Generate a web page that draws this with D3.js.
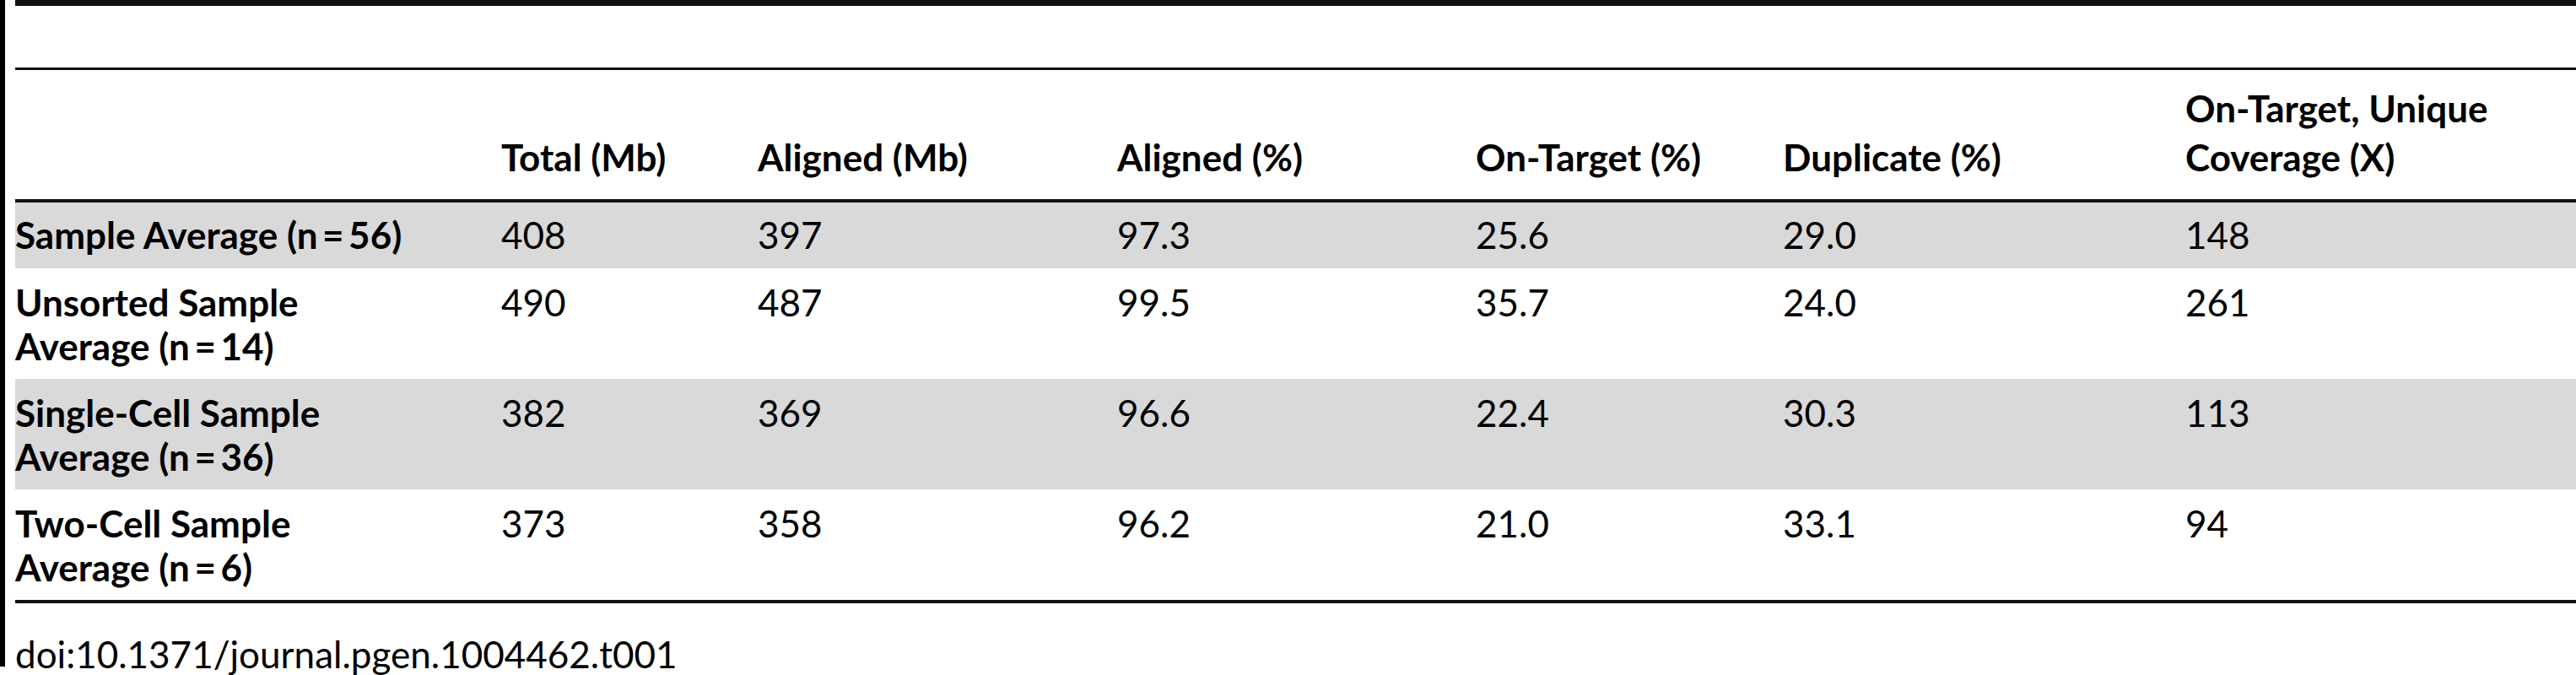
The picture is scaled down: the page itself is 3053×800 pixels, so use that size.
<!DOCTYPE html>
<html lang="en">
<head>
  <meta charset="utf-8">
  <title>Sequencing summary table</title>
  <script src="https://cdn.jsdelivr.net/npm/d3@7"></script>
  <style>
    body { margin: 0; background: #fff; }
    text { font-family: Lato, "Open Sans", sans-serif; fill: #000; }
    .hdr, .lbl { font-weight: bold; }
  </style>
</head>
<body>
  <div id="chart"></div>
  <script>
    // table data
    var columns = ["Total (Mb)", "Aligned (Mb)", "Aligned (%)", "On-Target (%)", "Duplicate (%)", "On-Target, Unique|Coverage (X)"];
    var rowLabels = ["Sample Average (n\u2009=\u200956)", "Unsorted Sample|Average (n\u2009=\u200914)", "Single-Cell Sample|Average (n\u2009=\u200936)", "Two-Cell Sample|Average (n\u2009=\u20096)"];
    var totalMb = ["408", "490", "382", "373"];
    var alignedMb = ["397", "487", "369", "358"];
    var alignedPct = ["97.3", "99.5", "96.6", "96.2"];
    var onTargetPct = ["25.6", "35.7", "22.4", "21.0"];
    var duplicatePct = ["29.0", "24.0", "30.3", "33.1"];
    var coverage = ["148", "261", "113", "94"];
    var doi = "doi:10.1371/journal.pgen.1004462.t001";

    var w = 3053, h = 800;
    var fs = 44, lineH = 52;

    var svg = d3.select("#chart").append("svg")
      .attr("width", w).attr("height", h);

    var x = d3.scaleOrdinal()
      .domain(["label"].concat(columns))
      .range([18, 594, 898, 1324, 1749, 2113, 2590]);

    var values = [totalMb, alignedMb, alignedPct, onTargetPct, duplicatePct, coverage];

    // row boundaries from line counts
    var headerBottom = 238;
    var bounds = [headerBottom];
    rowLabels.forEach(function(l) {
      var n = l.split("|").length;
      bounds.push(bounds[bounds.length - 1] + (n === 1 ? 80 : 131));
    });

    // grey stripes
    svg.selectAll(".stripe")
      .data(rowLabels)
      .enter().append("rect")
      .attr("x", 18)
      .attr("y", function(d, i) { return bounds[i]; })
      .attr("width", w - 18)
      .attr("height", function(d, i) { return bounds[i + 1] - bounds[i]; })
      .attr("fill", function(d, i) { return i % 2 === 0 ? "#d9d9d9" : "none"; });

    // rules
    svg.append("rect").attr("x", 0).attr("y", 0).attr("width", 6).attr("height", 790).attr("fill", "#000");
    svg.append("rect").attr("x", 18).attr("y", 0).attr("width", w).attr("height", 7).attr("fill", "#111");
    svg.append("rect").attr("x", 18).attr("y", 80).attr("width", w).attr("height", 3).attr("fill", "#111");
    svg.append("rect").attr("x", 18).attr("y", headerBottom - 2).attr("width", w).attr("height", 4).attr("fill", "#111");
    svg.append("rect").attr("x", 18).attr("y", bounds[bounds.length - 1]).attr("width", w).attr("height", 4).attr("fill", "#111");

    // header, bottom aligned
    columns.forEach(function(c) {
      var lines = c.split("|");
      lines.forEach(function(t, j) {
        svg.append("text")
          .attr("class", "hdr")
          .attr("x", x(c))
          .attr("y", 203 - (lines.length - 1 - j) * 58)
          .attr("font-size", fs)
          .text(t);
      });
    });

    // body rows
    rowLabels.forEach(function(lbl, i) {
      var base = bounds[i] + 57;
      lbl.split("|").forEach(function(t, j) {
        svg.append("text")
          .attr("class", "lbl")
          .attr("x", x("label"))
          .attr("y", base + j * lineH)
          .attr("font-size", fs)
          .text(t);
      });
      columns.forEach(function(c, k) {
        svg.append("text")
          .attr("x", x(c))
          .attr("y", base)
          .attr("font-size", fs)
          .text(values[k][i]);
      });
    });

    svg.append("text")
      .attr("x", 18).attr("y", 792)
      .attr("font-size", fs)
      .text(doi);
  </script>
</body>
</html>
